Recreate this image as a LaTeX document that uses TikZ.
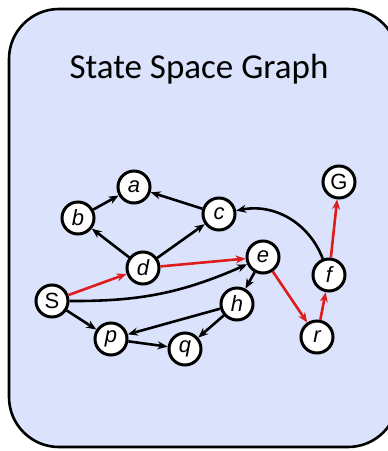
\documentclass[tikz,border=0pt]{standalone}
\usepackage{fontspec}
\setmainfont{Liberation Sans}
\newfontfamily\titlefont{Carlito}
\usetikzlibrary{arrows.meta}
\definecolor{boxfill}{RGB}{218,227,251}
\definecolor{redarrow}{RGB}{222,28,28}
\begin{document}
\begin{tikzpicture}[x=1pt,y=-1pt,
  st/.style={circle,draw=black,line width=3pt,fill=white,minimum size=32pt,inner sep=0pt,font=\fontsize{22}{22}\selectfont},
  ed/.style={line width=2.6pt,-{Stealth[length=10pt,width=8pt]}},
  red/.style={ed,draw=redarrow,-{Stealth[length=10pt,width=8pt,fill=redarrow]}}]
\useasboundingbox (0,0) rectangle (388,451);
\draw[line width=2.6pt,fill=boxfill,rounded corners=50pt] (9,9) rectangle (398,447);
\node[font=\titlefont\fontsize{35}{35}\selectfont] (title) at (199,69) {State Space Graph};
\node[st] (a) at (134,187) {\itshape a};
\node[st] (b) at (78,218) {\itshape b};
\node[st] (c) at (219,214) {\itshape c};
\node[st] (d) at (143,268) {\itshape d};
\node[st] (S) at (52,301) {S};
\node[st] (p) at (111,339) {\itshape p};
\node[st] (q) at (185,349) {\itshape q};
\node[st] (e) at (263,257) {\itshape e};
\node[st] (h) at (237,304) {\itshape h};
\node[st] (r) at (317,337) {\itshape r};
\node[st] (f) at (329,275) {\itshape f};
\node[st] (G) at (339,182) {G};
\draw[ed] (b) -- (a);
\draw[ed] (c) -- (a);
\draw[ed] (d) -- (b);
\draw[ed] (d) -- (c);
\draw[red] (S) -- (d);
\draw[red] (d) -- (e);
\draw[ed] (S.east) to[bend right=12] (e);
\draw[ed] (e) -- (h);
\draw[ed] (h) -- (p);
\draw[ed] (h) -- (q);
\draw[ed] (S) -- (p);
\draw[ed] (p) -- (q);
\draw[red] (e) -- (r);
\draw[red] (r) -- (f);
\draw[red] (f) -- (G);
\draw[ed] (f) to[bend right=40] (c);
\end{tikzpicture}
\end{document}
